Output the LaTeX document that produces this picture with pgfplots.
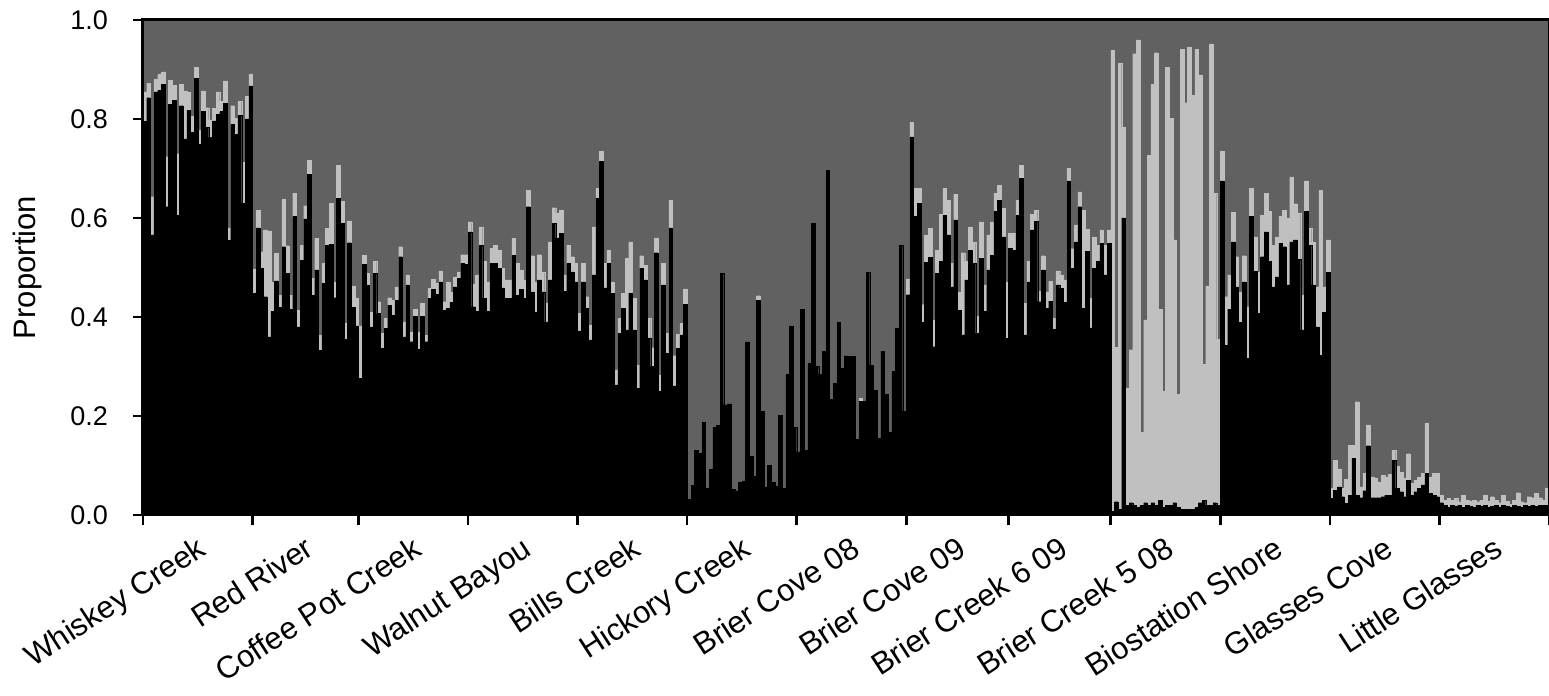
\documentclass[border=0pt]{standalone}
\usepackage{pgfplots}
\usepackage{pgfplotstable}
\pgfplotsset{compat=1.18}
\usepackage{fontspec}
\setmainfont{Liberation Sans}
\definecolor{dg}{RGB}{97,97,97}
\definecolor{lg}{RGB}{192,192,192}
\pgfplotstableread{
b t
.795 .855
.843 .872
.566 .643
.855 .88
.858 .89
.87 .895
.623 .724
.83 .878
.838 .868
.606 .73
.827 .87
.76 .857
.818 .854
.773 .805
.882 .904
.749 .777
.816 .857
.783 .823
.763 .798
.796 .822
.81 .855
.815 .836
.832 .877
.555 .58
.789 .827
.769 .801
.807 .836
.63 .713
.8 .846
.867 .891
.448 .497
.58 .616
.498 .532
.441 .576
.36 .574
.412 .471
.473 .529
.419 .444
.542 .638
.488 .544
.416 .444
.603 .65
.38 .414
.515 .545
.598 .625
.688 .717
.444 .478
.495 .559
.333 .363
.468 .508
.545 .579
.547 .63
.439 .471
.64 .707
.589 .634
.355 .387
.55 .594
.42 .463
.382 .438
.276 .382
.506 .525
.464 .488
.38 .41
.488 .513
.407 .431
.337 .367
.377 .397
.424 .439
.404 .434
.434 .461
.522 .542
.36 .39
.465 .485
.35 .37
.401 .416
.335 .37
.401 .428
.35 .363
.438 .458
.456 .476
.446 .468
.471 .493
.414 .431
.417 .471
.43 .45
.461 .481
.478 .491
.508 .526
.506 .526
.572 .592
.421 .466
.411 .485
.545 .582
.438 .512
.411 .471
.508 .539
.508 .545
.498 .535
.459 .498
.438 .475
.438 .475
.525 .559
.444 .508
.456 .495
.438 .475
.623 .656
.451 .524
.409 .471
.475 .526
.451 .49
.39 .428
.475 .552
.589 .621
.56 .609
.569 .616
.452 .485
.508 .545
.491 .522
.471 .508
.372 .408
.471 .508
.418 .441
.354 .384
.485 .582
.64 .66
.714 .735
.459 .508
.508 .535
.448 .471
.263 .293
.367 .397
.418 .448
.374 .518
.448 .552
.374 .438
.256 .303
.498 .524
.475 .505
.358 .397
.3 .338
.53 .56
.25 .283
.465 .508
.327 .367
.58 .636
.261 .322
.337 .365
.364 .387
.426 .457
.032 .032
.06 .06
.131 .131
.125 .125
.188 .188
.055 .055
.093 .093
.177 .177
.182 .182
.488 .488
.223 .223
.225 .225
.052 .052
.049 .049
.066 .066
.069 .069
.35 .35
.118 .118
.078 .078
.434 .443
.21 .21
.057 .057
.1 .1
.066 .066
.059 .059
.202 .202
.054 .054
.284 .284
.382 .382
.178 .178
.128 .128
.416 .416
.131 .131
.306 .306
.589 .589
.301 .301
.284 .284
.331 .331
.697 .697
.234 .234
.266 .266
.389 .389
.296 .296
.322 .322
.32 .32
.32 .32
.153 .153
.23 .236
.23 .23
.49 .49
.303 .303
.252 .252
.155 .155
.331 .331
.244 .244
.167 .167
.29 .29
.377 .377
.545 .545
.21 .21
.445 .477
.764 .793
.603 .66
.63 .66
.389 .425
.51 .566
.52 .579
.34 .394
.488 .535
.513 .607
.606 .66
.566 .636
.461 .508
.596 .648
.414 .451
.364 .53
.475 .512
.535 .582
.508 .551
.367 .401
.518 .592
.411 .465
.495 .566
.525 .592
.613 .65
.636 .666
.562 .619
.357 .471
.539 .569
.535 .569
.606 .636
.68 .707
.364 .428
.471 .512
.576 .607
.593 .616
.431 .452
.495 .524
.418 .451
.432 .472
.375 .397
.465 .493
.458 .485
.43 .475
.675 .7
.498 .538
.552 .586
.623 .653
.417 .616
.533 .577
.378 .438
.498 .562
.512 .545
.549 .576
.485 .545
.549 .576
.008 .939
.027 .339
.012 .912
.6 .783
.02 .257
.025 .334
.02 .932
.015 .96
.02 .167
.025 .394
.02 .727
.025 .87
.02 .934
.03 .416
.015 .25
.02 .905
.02 .801
.025 .556
.015 .244
.012 .941
.012 .833
.012 .945
.012 .848
.015 .941
.025 .889
.03 .304
.02 .463
.02 .952
.025 .65
.02 .355
.675 .735
.343 .441
.416 .485
.552 .612
.461 .522
.389 .451
.471 .524
.316 .421
.603 .66
.492 .562
.407 .491
.522 .606
.572 .65
.512 .613
.461 .545
.481 .562
.549 .603
.542 .616
.465 .6
.552 .683
.556 .629
.517 .61
.374 .444
.613 .675
.545 .579
.465 .552
.38 .461
.323 .656
.41 .461
.49 .556
.034 .055
.05 .111
.057 .093
.037 .054
.024 .072
.04 .141
.115 .141
.04 .229
.035 .057
.049 .084
.14 .182
.035 .077
.035 .074
.035 .067
.037 .08
.04 .077
.04 .082
.111 .131
.054 .098
.047 .086
.037 .074
.07 .124
.04 .064
.047 .07
.054 .077
.061 .084
.084 .185
.044 .077
.04 .084
.037 .084
.025 .04
.02 .03
.015 .034
.02 .03
.018 .034
.02 .027
.015 .04
.02 .03
.018 .028
.015 .03
.02 .027
.018 .03
.02 .04
.015 .028
.018 .037
.02 .03
.015 .025
.02 .04
.018 .028
.015 .022
.02 .03
.018 .045
.015 .027
.02 .025
.018 .037
.02 .035
.018 .044
.02 .035
.02 .03
.02 .055
}\data
\begin{document}
\begin{tikzpicture}
\begin{axis}[
  width=703pt, height=247.5pt, scale only axis,
  xmin=0, xmax=385, ymin=0, ymax=1,
  axis background/.style={fill=dg},
  axis on top,
  axis line style={black, line width=1.5pt},
  ybar,
  tick align=outside,
  xtick pos=bottom, ytick pos=left,
  major tick length=5pt,
  tick style={black, line width=1.3pt},
  xtick={0,30,59,89,119,149,179,209,237,265,295,325,355,385},
  xticklabels={},
  extra x ticks={15,44.5,74,104,134,164,194,223,251,280,310,340,370},
  extra x tick labels={Whiskey Creek,Red River,Coffee Pot Creek,Walnut Bayou,Bills Creek,Hickory Creek,Brier Cove 08,Brier Cove 09,Brier Creek 6 09,Brier Creek 5 08,Biostation Shore,Glasses Cove,Little Glasses},
  extra x tick style={major tick length=0pt,
    xticklabel style={font=\fontsize{15.5}{18}\selectfont, yshift=-5pt, rotate=33, anchor=north east}},
  ytick={0,0.2,0.4,0.6,0.8,1.0},
  yticklabel style={font=\fontsize{13.5}{16}\selectfont, xshift=-9pt, /pgf/number format/.cd, fixed, fixed zerofill, precision=1, assume math mode=true},
  ylabel={Proportion},
  ylabel style={font=\fontsize{15.5}{18}\selectfont, at={(axis description cs:-0.0825,0.5)}, anchor=center},
]
\addplot[fill=lg, draw=lg, line width=0.1pt, bar width=1, bar shift=0pt] table[x expr=\coordindex+0.5, y=t] {\data};
\addplot[fill=black, draw=black, line width=0.1pt, bar width=1, bar shift=0pt] table[x expr=\coordindex+0.5, y=b] {\data};
\coordinate (sw) at (rel axis cs:0,0);
\coordinate (ne) at (rel axis cs:1,1);
\end{axis}
\pgfresetboundingbox
\path[use as bounding box] ([xshift=-71.5pt,yshift=-90.5pt]sw) rectangle ([yshift=10pt]ne);
\end{tikzpicture}
\end{document}
